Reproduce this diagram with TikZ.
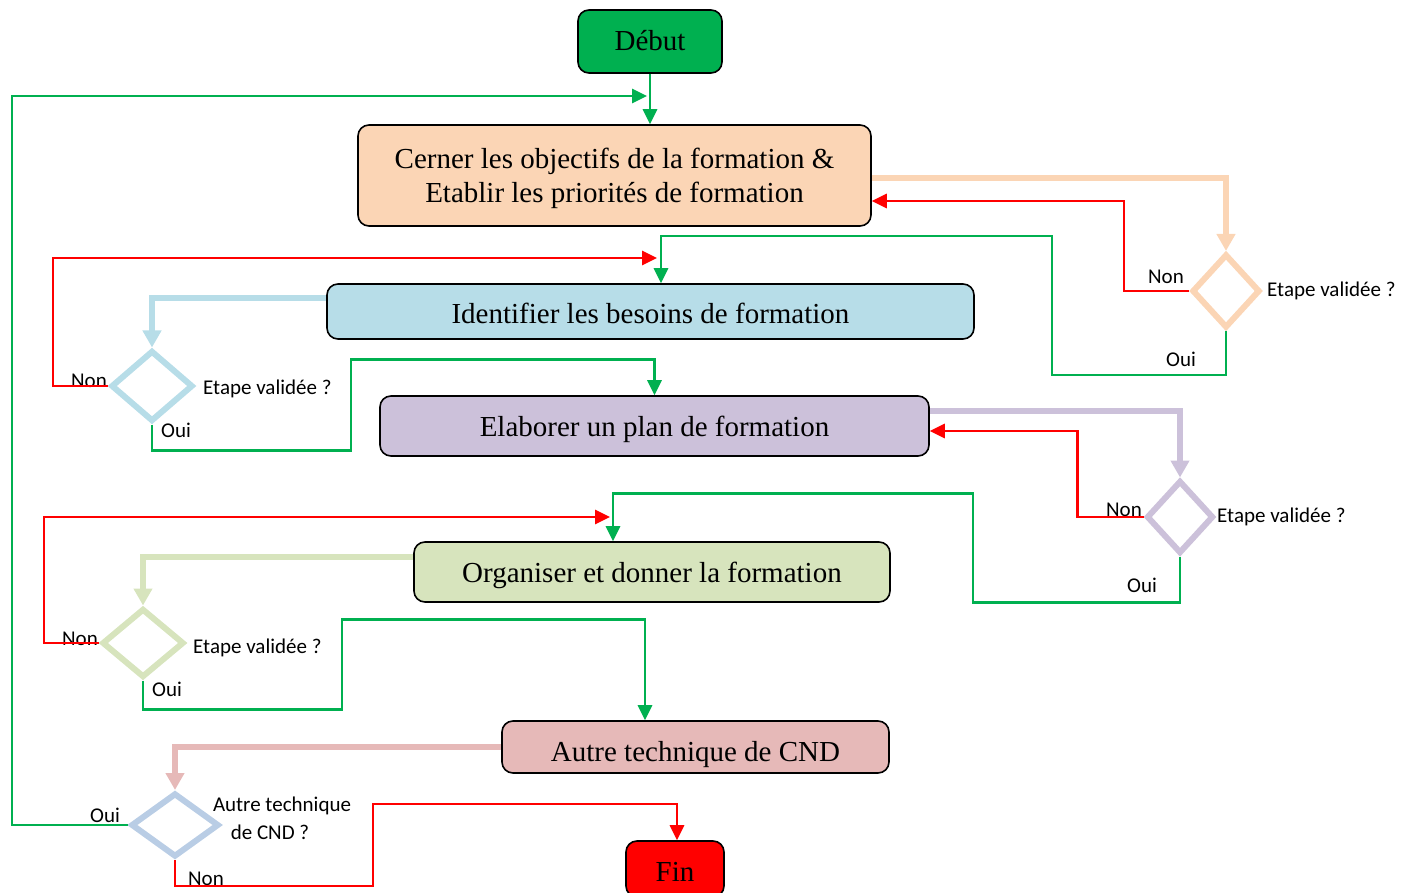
\documentclass[tikz,border=0pt]{standalone}
\usepackage{fontspec}
\setmainfont{Liberation Serif}
\newfontfamily\labelfont{Carlito}
\usetikzlibrary{arrows.meta,shapes.geometric}

\definecolor{okgreen}{HTML}{00B050}
\definecolor{nored}{HTML}{FF0000}
\definecolor{peach}{HTML}{FBD5B5}
\definecolor{skyblue}{HTML}{B7DDE8}
\definecolor{lilac}{HTML}{CCC1DA}
\definecolor{sage}{HTML}{D7E4BD}
\definecolor{rose}{HTML}{E6B9B8}
\definecolor{steel}{HTML}{B9CDE5}

\begin{document}
\begin{tikzpicture}[x=1pt,y=-1pt,
  box/.style={draw=black,line width=1.6pt,rounded corners=11pt,inner sep=0pt,
              align=center,font=\fontsize{29}{34}\selectfont},
  oneline/.style={text depth=0pt,text height=#1},
  decision/.style={diamond,draw=#1,line width=6pt,inner sep=0pt},
  lbl/.style={font=\labelfont\fontsize{21}{25}\selectfont,inner sep=0pt},
  yesline/.style={draw=okgreen,line width=2.8pt},
  yesarrow/.style={yesline,-{Triangle[width=14pt,length=15pt]}},
  noarrow/.style={draw=nored,line width=2.8pt,-{Triangle[width=14pt,length=15pt]}},
  flow/.style={draw=#1,line width=6pt,-{Triangle[width=18pt,length=17pt]}}]

\useasboundingbox (0,0) rectangle (1403,893);

% process boxes
\node[box,oneline=19pt,fill=okgreen,minimum width=144pt,minimum height=63pt] (debut) at (650,41.5) {Début};
\node[box,text height=60pt,fill=peach,minimum width=513pt,minimum height=101pt] (cerner) at (614.5,175.5)
  {Cerner les objectifs de la formation \&\\Etablir les priorités de formation};
\node[box,oneline=24pt,fill=skyblue,minimum width=647pt,minimum height=55pt] (ident) at (650.5,311.5)
  {Identifier les besoins de formation};
\node[box,oneline=21.5pt,fill=lilac,minimum width=549pt,minimum height=60pt] (elab) at (654.5,426)
  {Elaborer un plan de formation};
\node[box,oneline=21.5pt,fill=sage,minimum width=476pt,minimum height=60pt] (org) at (652,572)
  {Organiser et donner la formation};
\node[box,oneline=29pt,fill=rose,minimum width=387pt,minimum height=52pt] (autre) at (695.5,747)
  {Autre technique de CND};
\node[box,oneline=25pt,fill=nored,minimum width=98pt,minimum height=56pt] (fin) at (675,869) {Fin};

% decisions
\node[decision=peach,minimum width=68pt,minimum height=74pt] (d1) at (1226,291) {};
\node[decision=skyblue,minimum width=82pt,minimum height=71pt] (d2) at (152,386) {};
\node[decision=lilac,minimum width=67pt,minimum height=73pt] (d3) at (1180,517) {};
\node[decision=sage,minimum width=82pt,minimum height=69pt] (d4) at (143,643) {};
\node[decision=steel,minimum width=88pt,minimum height=64pt] (d5) at (175,825) {};

% decision texts
\node[lbl,anchor=west] (q1) at (1267,291) {Etape validée ?};
\node[lbl] (n1) at (1166,277) {Non};
\node[lbl] (o1) at (1181,359) {Oui};
\node[lbl,anchor=west] (q2) at (203,389) {Etape validée ?};
\node[lbl] (n2) at (89,381) {Non};
\node[lbl] (o2) at (176,430) {Oui};
\node[lbl,anchor=west] (q3) at (1217,517) {Etape validée ?};
\node[lbl] (n3) at (1124,510) {Non};
\node[lbl] (o3) at (1142,585) {Oui};
\node[lbl,anchor=west] (q4) at (193,648) {Etape validée ?};
\node[lbl] (n4) at (80,639) {Non};
\node[lbl] (o4) at (167,689) {Oui};
\node[lbl] (q5a) at (282,806) {Autre technique};
\node[lbl] (q5b) at (270,832) {de CND ?};
\node[lbl] (o5) at (105,815) {Oui};
\node[lbl] (n5) at (206,879) {Non};

% free ends of the loop-back arrows
\coordinate (loopin) at (647,96);
\coordinate (n2in) at (657,258);
\coordinate (n4in) at (610,517);

% start
\draw[yesarrow] (debut.south) -- (debut.south |- cerner.north);

% step 1: objectives
\draw[flow=peach] ([yshift=-2.5pt]cerner.east) -| (d1.north);
\draw[noarrow] (d1.west) -- ++(-65,0) |- ([yshift=-25.5pt]cerner.east);
\draw[yesarrow] (d1.south) -- ++(0,44) -| ++(-174,-139) -| ([xshift=10.5pt]ident.north);

% step 2: needs
\draw[flow=skyblue] ([yshift=13.5pt]ident.west) -| (d2.north);
\draw[noarrow] (d2.west) -- ++(-55,0) |- (n2in);
\draw[yesarrow] (d2.south) -- ++(0,26) -| ++(199,-91) -| (elab.north);

% step 3: plan
\draw[flow=lilac] ([yshift=15pt]elab.east) -| (d3.north);
\draw[noarrow] (d3.west) -- ++(-66,0) |- ([yshift=-5pt]elab.east);
\draw[yesarrow] (d3.south) -- ++(0,46) -| ++(-207,-109) -| ([xshift=-39pt]org.north);

% step 4: delivery
\draw[flow=sage] ([yshift=15pt]org.west) -| (d4.north);
\draw[noarrow] (d4.west) -- ++(-55,0) |- (n4in);
\draw[yesarrow] (d4.south) -- ++(0,29) -| ++(199,-90) -| ([xshift=-50.5pt]autre.north);

% other technique
\draw[flow=rose] (autre.west) -| (d5.north);
\draw[yesarrow] (d5.west) -- ++(-116,0) |- (loopin);
\draw[noarrow] (d5.south) -- ++(0,26) -| ++(198,-82) -| ([xshift=2pt]fin.north);

\end{tikzpicture}
\end{document}
